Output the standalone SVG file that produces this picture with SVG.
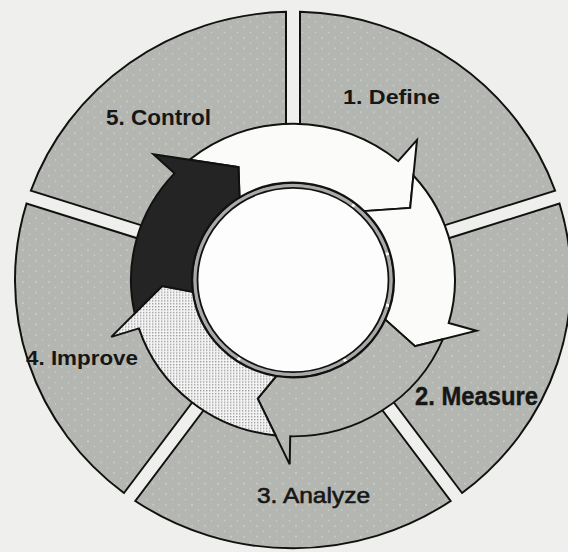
<svg xmlns="http://www.w3.org/2000/svg" width="568" height="552" viewBox="0 0 568 552">
  <defs>
    <!-- speckled grey print screen -->
    <pattern id="stipple" width="13" height="11" patternUnits="userSpaceOnUse">
      <rect width="13" height="11" fill="#b4b6b1"/>
      <circle cx="3" cy="2" r="0.8" fill="#d8dad6"/>
      <circle cx="9.5" cy="7.5" r="0.7" fill="#d3d5d1"/>
    </pattern>
    <!-- fine halftone screen -->
    <pattern id="screen" width="3" height="3" patternUnits="userSpaceOnUse">
      <rect width="3" height="3" fill="#f4f4f4"/>
      <rect width="1.4" height="1.4" fill="#9c9c9c"/>
    </pattern>
  </defs>
  <style>
    .seg { fill: url(#stipple); stroke: #111; stroke-width: 2; }
    .arrow { stroke: #111; stroke-width: 2; stroke-linejoin: miter; }
    .white { fill: #fbfbfa; }
    .grey { fill: url(#stipple); }
    .screen { fill: url(#screen); }
    .dark { fill: #242424; }
    .label { font-family: "Liberation Sans", Arial, Helvetica, sans-serif; font-weight: bold; fill: #161616; }
  </style>

  <rect width="568" height="552" fill="#efefed"/>

  <!-- outer ring: five phase segments -->
  <g id="phase-define">
    <path class="seg" transform="translate(293 280) scale(1 0.965)" d="M 7,-277.91 A 278 278 0 0 1 262.15,-92.54 L 140.34,-52.96 A 150 150 0 0 0 7,-149.84 Z"/>
    <text class="label" x="343" y="104" font-size="21" textLength="97" lengthAdjust="spacingAndGlyphs">1. Define</text>
  </g>
  <g id="phase-measure">
    <path class="seg" transform="translate(293 280) scale(1 0.965)" d="M 266.47,-79.22 A 278 278 0 0 1 169.02,220.72 L 93.73,117.11 A 150 150 0 0 0 144.67,-39.65 Z"/>
    <text class="label" x="415" y="405" font-size="25" textLength="123" lengthAdjust="spacingAndGlyphs" stroke="#161616" stroke-width="0.4">2. Measure</text>
  </g>
  <g id="phase-analyze">
    <path class="seg" transform="translate(293 280) scale(1 0.965)" d="M 157.69,228.95 A 278 278 0 0 1 -157.69,228.95 L -82.41,125.34 A 150 150 0 0 0 82.41,125.34 Z"/>
    <text class="label" x="257" y="503" font-size="22" textLength="113" lengthAdjust="spacingAndGlyphs" style="font-weight: normal" stroke="#161616" stroke-width="0.6">3. Analyze</text>
  </g>
  <g id="phase-improve">
    <path class="seg" transform="translate(293 280) scale(1 0.965)" d="M -169.02,220.72 A 278 278 0 0 1 -266.47,-79.22 L -144.67,-39.65 A 150 150 0 0 0 -93.73,117.11 Z"/>
    <text class="label" x="26" y="365" font-size="20" textLength="112" lengthAdjust="spacingAndGlyphs">4. Improve</text>
  </g>
  <g id="phase-control">
    <path class="seg" transform="translate(293 280) scale(1 0.965)" d="M -262.15,-92.54 A 278 278 0 0 1 -7,-277.91 L -7,-149.84 A 150 150 0 0 0 -140.34,-52.96 Z"/>
    <text class="label" x="106" y="125" font-size="22" textLength="105" lengthAdjust="spacingAndGlyphs">5. Control</text>
  </g>

  <!-- hub: thin banded ring round a white disc -->
  <g id="hub" transform="translate(293 280) scale(1 0.965)">
    <circle r="98" fill="none" stroke="#a9aaa7" stroke-width="4.5"/>
    <g stroke="#fbfbfa" stroke-width="3">
      <line x1="0" y1="-96" x2="0" y2="-100" transform="rotate(38)"/>
      <line x1="0" y1="-96" x2="0" y2="-100" transform="rotate(74)"/>
      <line x1="0" y1="-96" x2="0" y2="-100" transform="rotate(105.5)"/>
      <line x1="0" y1="-96" x2="0" y2="-100" transform="rotate(148)"/>
      <line x1="0" y1="-96" x2="0" y2="-100" transform="rotate(213.5)"/>
    </g>
    <circle r="100.5" fill="none" stroke="#111" stroke-width="1.4"/>
    <circle r="95.5" fill="#fdfdfd" stroke="#111" stroke-width="1.8"/>
  </g>

  <!-- cycle arrows: each tail is notched round the previous head -->
  <g id="cycle-arrows" transform="translate(293 280) scale(1 0.965)">
    <path id="arrow-define" class="arrow white" d="M -103.5,-124.6 A 162 162 0 0 1 105.2,-123.2 L 124.0,-145.2 L 117.2,-74.7 L 71.4,-71.4 A 101 101 0 0 0 -53.5,-85.6 L -54.5,-116.9 Z"/>
    <path id="arrow-measure" class="arrow white" d="M 120.4,-108.3 A 162 162 0 0 1 155.7,44.6 L 183.6,52.6 L 122.0,68.7 L 92.3,41.1 A 101 101 0 0 0 71.4,-71.4 L 117.2,-74.7 Z"/>
    <path id="arrow-analyze" class="arrow grey" d="M 149.9,61.4 A 162 162 0 0 1 -2.8,162.0 L -3.3,191.0 L -35.3,123.0 L -16.8,99.6 A 101 101 0 0 0 92.3,41.1 L 122.0,68.7 Z"/>
    <path id="arrow-improve" class="arrow screen" d="M -17.4,161.1 A 162 162 0 0 1 -154.1,50.1 L -181.7,59.0 L -130.9,6.2 L -100.2,12.3 A 101 101 0 0 0 -16.8,99.6 L -35.3,123.0 Z"/>
    <path id="arrow-control" class="arrow dark" d="M -158.3,34.6 A 162 162 0 0 1 -118.5,-110.5 L -139.7,-130.3 L -54.5,-116.9 L -53.5,-85.6 A 101 101 0 0 0 -100.2,12.3 L -130.9,6.2 Z"/>
  </g>
</svg>
